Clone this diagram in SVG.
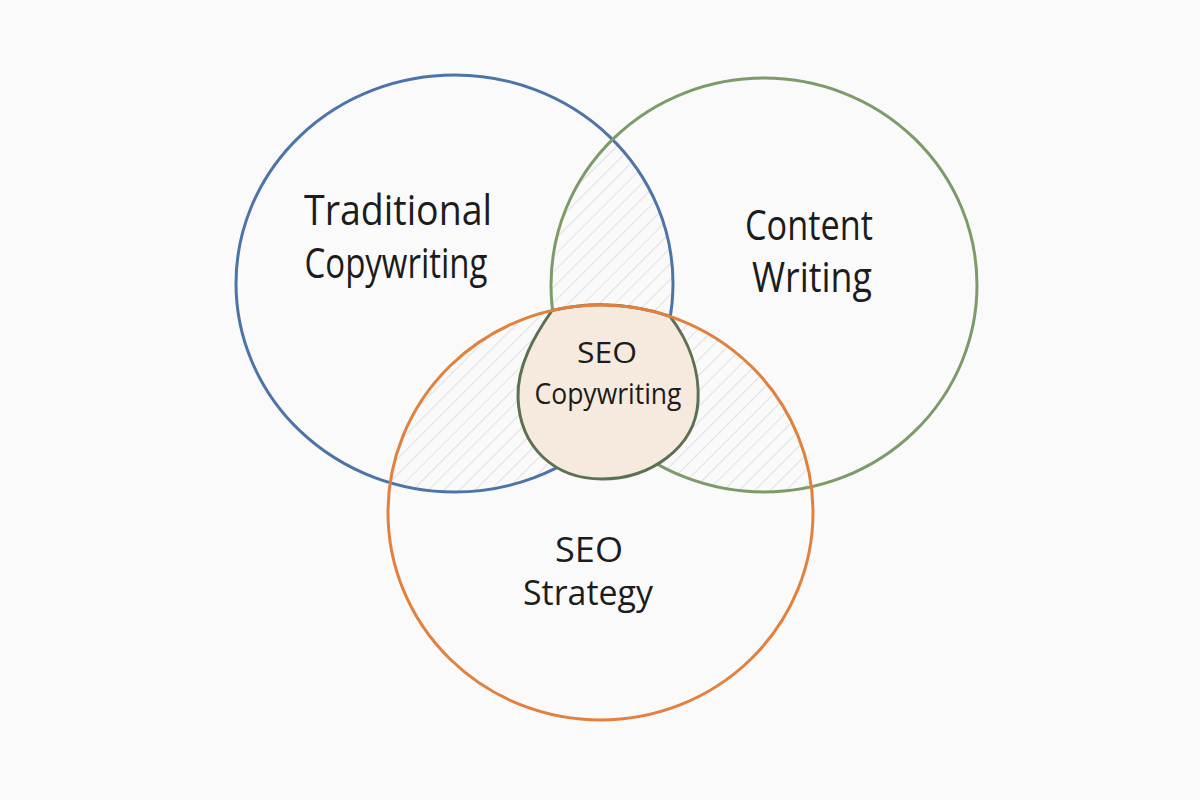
<svg xmlns="http://www.w3.org/2000/svg" width="1200" height="800" viewBox="0 0 1200 800">
<style>
.ring{fill:none;stroke-width:3}
.lbl{font-family:"Open Sans","Liberation Sans",sans-serif;fill:#1c1c1c;text-anchor:middle}
.big{font-size:42px}
.small{font-size:34px}
.mid{font-size:30px}
</style>
<defs>
<pattern id="hatch" patternUnits="userSpaceOnUse" width="11" height="11" patternTransform="rotate(45)">
<line x1="0" y1="0" x2="0" y2="11" stroke="#cfcfcf" stroke-width="1.2"/>
</pattern>
<clipPath id="cB"><ellipse cx="454.5" cy="283.5" rx="218.5" ry="208.5"/></clipPath>
<clipPath id="cG"><ellipse cx="764" cy="285" rx="213" ry="207"/></clipPath>
<clipPath id="cO"><ellipse cx="600.5" cy="512.5" rx="212.5" ry="207.5"/></clipPath>
</defs>
<rect width="1200" height="800" fill="#fafafa"/>
<g id="hatching">
<g clip-path="url(#cB)"><rect x="0" y="0" width="1200" height="800" fill="url(#hatch)" clip-path="url(#cG)"/></g>
<g clip-path="url(#cB)"><rect x="0" y="0" width="1200" height="800" fill="url(#hatch)" clip-path="url(#cO)"/></g>
<g clip-path="url(#cG)"><rect x="0" y="0" width="1200" height="800" fill="url(#hatch)" clip-path="url(#cO)"/></g>
</g>
<g id="traditional">
<ellipse class="ring" cx="454.5" cy="283.5" rx="218.5" ry="208.5" stroke="#4d74a8"/>
<text class="lbl big" x="398" y="225" textLength="188" lengthAdjust="spacingAndGlyphs">Traditional</text>
<text class="lbl big" x="396" y="278" textLength="183" lengthAdjust="spacingAndGlyphs">Copywriting</text>
</g>
<g id="content">
<ellipse class="ring" cx="764" cy="285" rx="213" ry="207" stroke="#7c9b68"/>
<text class="lbl big" x="809" y="240" textLength="128" lengthAdjust="spacingAndGlyphs">Content</text>
<text class="lbl big" x="812" y="292" textLength="120" lengthAdjust="spacingAndGlyphs">Writing</text>
</g>
<g id="seocopy">
<path d="M552,310.5 A212.5,207.5 0 0 1 670,316.4 C688,340 700,370 698,402 C695,448 650,479 602,479 C555,479 520,448 518,398 C517,365 535,335 552,310.5 Z" fill="#f6eadf" stroke="#5c7052" stroke-width="3"/>
<text class="lbl mid" x="607" y="363" textLength="60" lengthAdjust="spacingAndGlyphs">SEO</text>
<text class="lbl mid" x="608" y="404" textLength="147" lengthAdjust="spacingAndGlyphs">Copywriting</text>
</g>
<g id="strategy">
<ellipse class="ring" cx="600.5" cy="512.5" rx="212.5" ry="207.5" stroke="#e2813e"/>
<text class="lbl small" x="589" y="562" textLength="68" lengthAdjust="spacingAndGlyphs">SEO</text>
<text class="lbl small" x="588" y="605" textLength="130" lengthAdjust="spacingAndGlyphs">Strategy</text>
</g>
<g id="connectors"/>
</svg>
